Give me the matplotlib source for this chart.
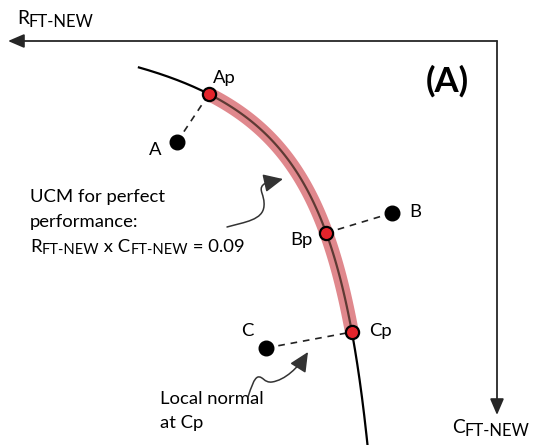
import numpy as np
import matplotlib
matplotlib.use("Agg")
import matplotlib.pyplot as plt
from matplotlib.patches import FancyArrowPatch
from matplotlib.path import Path

plt.rcParams['font.family'] = ['Lato', 'DejaVu Sans']

# ---- data (R = leftward distance, C = downward distance, diagram units) ----
ucm_product = 0.09
ucm_r = np.linspace(0.565, 0.094, 200)          # scaled R along the UCM
# mapping of scaled UCM coordinates into diagram units
ucm_offset_R, ucm_offset_C, ucm_scale = 82.0, -52.0, 490.5

point_names = ['A', 'B', 'C']
points_R = [320, 105, 231]
points_C = [101, 172, 307]
proj_names = ['Ap', 'Bp', 'Cp']
proj_R = [288, 171, 145]
proj_C = [53, 192, 291]

axis_R_len = 489
axis_C_len = 374

# ---- figure ----
fig = plt.figure(figsize=(5.42, 4.45), dpi=100)
ax = fig.add_axes([0, 0, 1, 1])
ax.set_xlim(497, -45)
ax.set_ylim(404, -41)
ax.axis('off')

fs = 13.3


def rich(x, y, pieces):
    """pieces: list of (text, size, dy_points); baseline-anchored at (x, y)."""
    s0, f0, d0 = pieces[0]
    prev = ax.text(x, y, s0, fontsize=f0, ha='left', va='baseline')
    prev_dy = d0
    for s, f, d in pieces[1:]:
        prev = ax.annotate(s, xy=(1, 0), xycoords=prev, xytext=(0, d - prev_dy),
                           textcoords='offset points', va='bottom', fontsize=f)
        prev_dy = d
    return prev


# axes arrows
axcol = '#262626'
for tip in [(axis_R_len, 0), (0, axis_C_len)]:
    ax.annotate('', xy=tip, xytext=(0, 0),
                arrowprops=dict(arrowstyle='-|>,head_length=0.7,head_width=0.3',
                                color=axcol, lw=1.3, shrinkA=0, shrinkB=0,
                                mutation_scale=14))

# UCM curve
ucm_c = ucm_product / ucm_r
curve_R = ucm_offset_R + ucm_scale * ucm_r
curve_C = ucm_offset_C + ucm_scale * ucm_c
ax.plot(curve_R, curve_C, color='black', lw=1.6, solid_capstyle='butt', zorder=2)

band = (curve_R <= proj_R[0]) & (curve_R >= proj_R[2])
ax.plot(curve_R[band], curve_C[band], color='#e0888d', lw=10, solid_capstyle='butt', zorder=3)
ax.plot(curve_R[band], curve_C[band], color='#5e3a34', lw=1.6, zorder=4)

# dashed normals
for pr, pc, qr, qc in zip(points_R, points_C, proj_R, proj_C):
    ax.plot([pr, qr], [pc, qc], color='#222222', lw=1.2, ls=(0, (4, 3.5)), zorder=4)

# points
ax.plot(points_R, points_C, 'o', color='black', ms=10.5, zorder=6)
ax.plot(proj_R, proj_C, 'o', mfc='#e3242b', mec='black', mew=1.6, ms=9.5, zorder=6)

# point labels
ax.text(342, 114, 'A', fontsize=fs, ha='center', va='baseline')
ax.text(82, 176, 'B', fontsize=fs, ha='center', va='baseline')
ax.text(250, 295, 'C', fontsize=fs, ha='center', va='baseline')
ax.text(284, 42, 'Ap', fontsize=fs, ha='left', va='baseline')
ax.text(184, 204, 'Bp', fontsize=fs, ha='right', va='baseline')
ax.text(128, 295, 'Cp', fontsize=fs, ha='left', va='baseline')

# axis labels
sub_ax = 12
rich(480, -17, [('R', fs + 0.5, 0), ('FT-NEW', sub_ax, -2)])
rich(45, 392, [('C', fs + 0.5, 0), ('FT-NEW', sub_ax, -2)])

ax.text(49.5, 51, '(A)', fontsize=25, fontweight='bold', ha='center', va='baseline')

# UCM annotation
sub_t = 10.6
ax.text(467, 161, 'UCM for perfect', fontsize=fs, ha='left', va='baseline')
ax.text(467, 186, 'performance:', fontsize=fs, ha='left', va='baseline')
rich(467, 211, [('R', fs, 0), ('FT-NEW', sub_t, -1.5), (' x C', fs, 0),
                ('FT-NEW', sub_t, -1.5), (' = 0.09', fs, 0)])

ax.text(337, 363, 'Local normal', fontsize=fs, ha='left', va='baseline')
ax.text(337, 387, 'at Cp', fontsize=fs, ha='left', va='baseline')

# squiggly pointer arrows
C4 = Path.CURVE4
sq1 = [(270, 186), (252, 181), (234, 179), (233, 165), (232, 154), (239, 149),
       (234, 144), (230, 140), (223, 140), (214, 138)]
sq2 = [(249, 356), (246, 347), (243, 337), (239, 336), (234, 335), (233, 342),
       (225, 341), (212, 339), (199, 327), (189, 311)]
for verts in (sq1, sq2):
    codes = [Path.MOVETO] + [C4] * (len(verts) - 1)
    arr = FancyArrowPatch(path=Path(verts, codes),
                          arrowstyle='-|>,head_length=0.85,head_width=0.4',
                          mutation_scale=14, color='#333333', lw=1.1, zorder=5)
    ax.add_patch(arr)

fig.savefig('out.png', dpi=100)
